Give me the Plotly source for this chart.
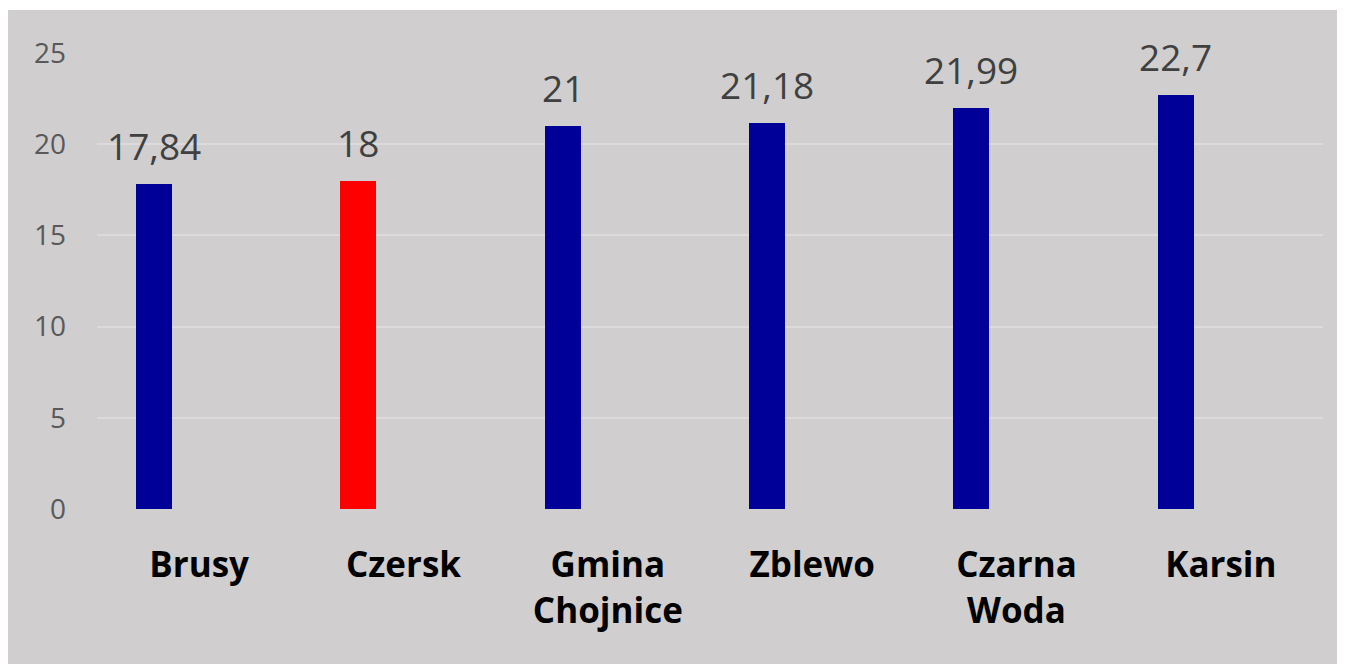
import plotly.graph_objects as go

categories = ["Brusy", "Czersk", "Gmina<br>Chojnice", "Zblewo", "Czarna<br>Woda", "Karsin"]
values = [17.84, 18, 21, 21.18, 21.99, 22.7]
bar_colors = ["#000099", "#ff0000", "#000099", "#000099", "#000099", "#000099"]
y_ticks = [0, 5, 10, 15, 20, 25]

PAGE = 8  # default body margin of the html page
W, H = 1345 - PAGE, 664 - PAGE
ML, MR, MT, MB = 97 - PAGE, 22, 53 - PAGE, 155
PW, PH = W - ML - MR, H - MT - MB
slot = PW / len(categories)
bar_w = 36 / slot
bar_off = (136 - (97 + slot / 2)) / slot
label_shift = (bar_off + bar_w / 2) * slot

def fmt(v):
    return ("%g" % v).replace(".", ",")

fig = go.Figure()
fig.add_trace(go.Bar(
    x=categories, y=values,
    marker=dict(color=bar_colors, line=dict(width=0)),
    width=bar_w, offset=bar_off,
    hoverinfo="skip",
))

for c, v in zip(categories, values):
    fig.add_annotation(
        x=c, y=v, text=fmt(v), showarrow=False,
        xanchor="center", yanchor="bottom",
        xshift=label_shift, yshift=11,
        font=dict(family="Open Sans", size=37, color="#404040"),
    )

# gray card background
fig.add_shape(
    type="rect", xref="paper", yref="paper",
    x0=-ML / PW, x1=(W - ML) / PW,
    y0=-MB / PH, y1=(H - (10 - PAGE) - MB) / PH,
    fillcolor="#d0cece", line=dict(width=0), layer="below",
)

fig.update_layout(
    width=W, height=H,
    margin=dict(l=ML, r=MR, t=MT, b=MB, pad=0),
    paper_bgcolor="white",
    plot_bgcolor="rgba(0,0,0,0)",
    showlegend=False,
    bargap=0,
    xaxis=dict(
        type="category",
        showgrid=False, zeroline=False, showline=False, ticks="",
        tickfont=dict(family="Open Sans", size=35, color="#000000", weight="bold"),
        ticklabelstandoff=32,
    ),
    yaxis=dict(
        range=[0, 25], tickvals=y_ticks, ticktext=[str(t) for t in y_ticks],
        showgrid=True, gridcolor="#dcdada", gridwidth=2,
        zeroline=False, showline=False, ticks="",
        tickfont=dict(family="Open Sans", size=28, color="#595959"),
        ticklabelstandoff=30,
    ),
)

fig.write_html("out.html")
